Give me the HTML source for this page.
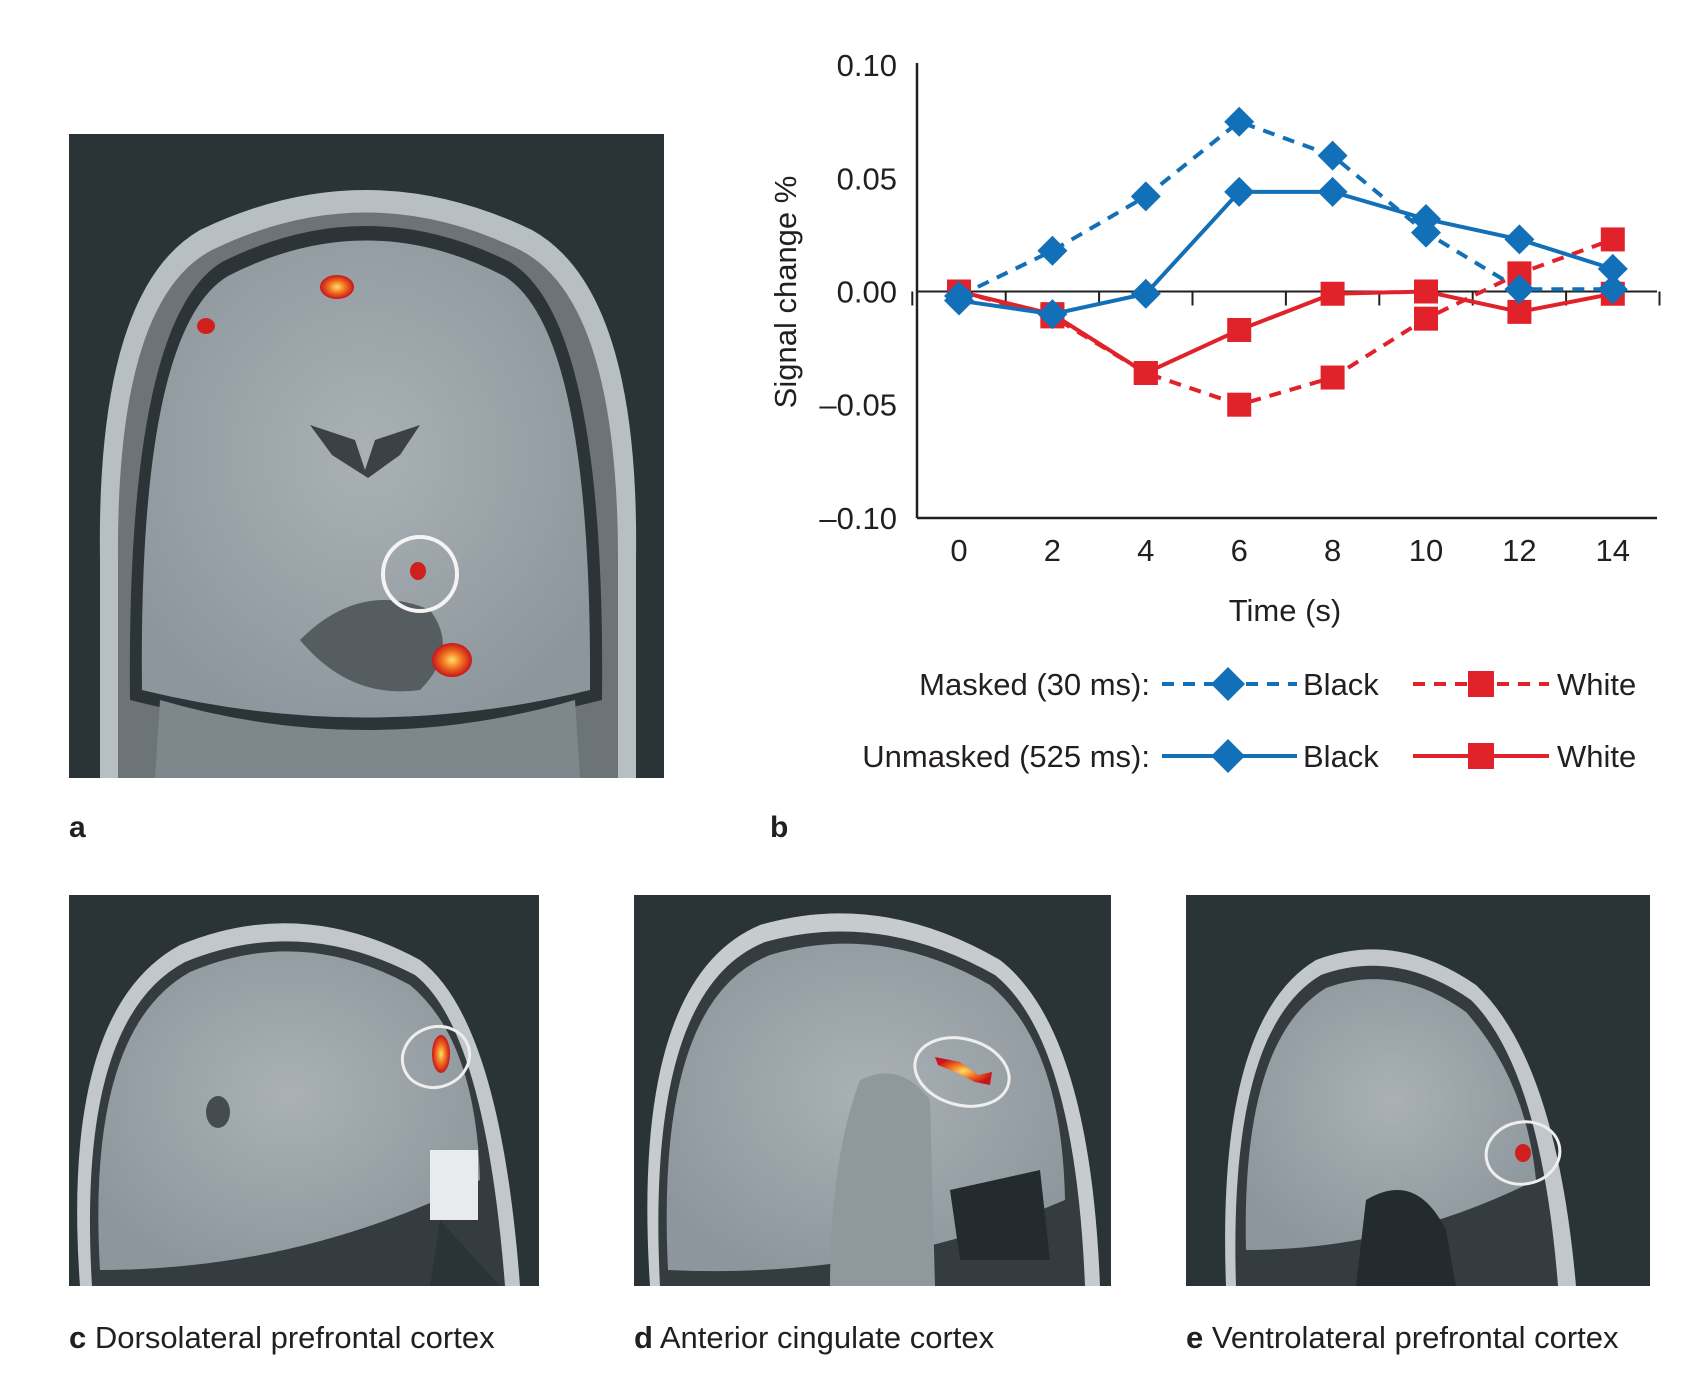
<!DOCTYPE html>
<html><head><meta charset="utf-8">
<style>
html,body{margin:0;padding:0;background:#fff;}
body{width:1692px;height:1393px;position:relative;overflow:hidden;font-family:"Liberation Sans",sans-serif;color:#231f20;}
svg text{font-family:"Liberation Sans",sans-serif;fill:#231f20;}
</style></head>
<body>
<svg id="fig" width="1692" height="1393" viewBox="0 0 1692 1393" xmlns="http://www.w3.org/2000/svg">
<defs>
  <radialGradient id="blob" cx="50%" cy="50%" r="50%">
    <stop offset="0" stop-color="#ffe066"/><stop offset="0.5" stop-color="#f07020"/><stop offset="1" stop-color="#c8141a"/>
  </radialGradient>
  <radialGradient id="brainG" cx="50%" cy="45%" r="60%">
    <stop offset="0" stop-color="#a9b1b6"/><stop offset="1" stop-color="#8d969c"/>
  </radialGradient>
</defs>

<g>
  <rect x="69" y="134" width="595" height="644" fill="#2a3336"/>
  <path d="M100 778 L100 560 Q96 290 200 230 Q366 150 532 230 Q640 290 636 560 L636 778 Z" fill="#b8bfc3"/>
  <path d="M118 778 L118 560 Q116 300 212 250 Q366 175 520 250 Q618 300 618 560 L618 778 Z" fill="#6c7478"/>
  <path d="M130 700 Q126 320 222 262 Q366 190 510 262 Q606 320 602 700 Q366 760 130 700 Z" fill="#2c3437"/>
  <path d="M142 690 Q138 330 228 276 Q366 205 504 276 Q592 330 590 690 Q366 745 142 690 Z" fill="url(#brainG)"/>
  <path d="M310 425 L355 440 L365 470 L375 440 L420 425 L400 455 L368 478 L332 455 Z" fill="#3a4245"/>
  <path d="M300 640 Q360 580 430 610 Q460 650 420 690 Q350 700 300 640 Z" fill="#555d61"/>
  <path d="M155 778 L160 700 Q366 760 575 700 L580 778 Z" fill="#7e878c"/>
  <ellipse cx="337" cy="287" rx="17" ry="12" fill="url(#blob)"/>
  <ellipse cx="206" cy="326" rx="9" ry="8" fill="#d0201e"/>
  <ellipse cx="418" cy="571" rx="8" ry="9" fill="#d0201e"/>
  <ellipse cx="452" cy="660" rx="20" ry="17" fill="url(#blob)"/>
  <circle cx="420" cy="574" r="37" fill="none" stroke="#f4f4f4" stroke-width="4"/>
</g>
<text x="69" y="837" font-size="30" font-weight="bold">a</text>
<text x="770" y="837" font-size="30" font-weight="bold">b</text>

<g id="chart"></g>

<g>
  <rect x="69" y="895" width="470" height="391" fill="#2a3336"/>
  <path d="M80 1286 Q60 1010 180 945 Q300 895 420 960 Q500 1020 520 1286 Z" fill="#c1c7ca"/>
  <path d="M92 1286 Q76 1020 185 962 Q300 915 415 975 Q485 1030 505 1286 Z" fill="#343c3f"/>
  <path d="M100 1270 Q86 1030 190 972 Q300 925 410 985 Q476 1040 480 1180 Q300 1270 100 1270 Z" fill="url(#brainG)"/>
  <rect x="430" y="1150" width="48" height="70" fill="#e8eaeb"/>
  <path d="M440 1220 L500 1286 L430 1286 Z" fill="#2a3336"/>
  <ellipse cx="218" cy="1112" rx="12" ry="16" fill="#444c50"/>
  <ellipse cx="441" cy="1054" rx="9" ry="19" fill="url(#blob)"/>
  <ellipse cx="436" cy="1057" rx="34" ry="30" fill="none" stroke="#eeeeee" stroke-width="3" transform="rotate(-20 436 1057)"/>
</g>
<g>
  <rect x="634" y="895" width="477" height="391" fill="#2a3336"/>
  <path d="M650 1286 Q630 980 760 925 Q880 890 1000 960 Q1090 1030 1100 1286 Z" fill="#c6cbce"/>
  <path d="M660 1286 Q645 990 765 942 Q880 910 995 975 Q1075 1040 1085 1286 Z" fill="#343c3f"/>
  <path d="M668 1270 Q655 1000 770 955 Q880 922 990 985 Q1062 1045 1065 1200 Q880 1280 668 1270 Z" fill="url(#brainG)"/>
  <path d="M860 1080 Q900 1060 930 1100 L935 1286 L830 1286 Q830 1160 860 1080 Z" fill="#8f989d"/>
  <path d="M950 1190 L1040 1170 L1050 1260 L960 1260 Z" fill="#242b2e"/>
  <path d="M935 1057 L960 1062 L978 1075 L992 1072 L990 1085 L975 1082 L955 1072 L938 1065 Z" fill="url(#blob)"/>
  <ellipse cx="962" cy="1072" rx="48" ry="33" fill="none" stroke="#eeeeee" stroke-width="3" transform="rotate(15 962 1072)"/>
</g>
<g transform="translate(-4 0)">
  <rect x="1190" y="895" width="464" height="391" fill="#2a3336"/>
  <path d="M1230 1286 Q1220 1020 1320 960 Q1400 930 1480 985 Q1560 1060 1580 1286 Z" fill="#c1c7ca"/>
  <path d="M1240 1286 Q1232 1030 1325 975 Q1400 948 1475 1000 Q1545 1070 1562 1286 Z" fill="#343c3f"/>
  <path d="M1250 1250 Q1245 1040 1330 988 Q1400 962 1470 1012 Q1530 1080 1540 1180 Q1400 1250 1250 1250 Z" fill="url(#brainG)"/>
  <path d="M1370 1200 Q1420 1170 1450 1230 L1460 1286 L1360 1286 Z" fill="#242b2e"/>
  <ellipse cx="1527" cy="1153" rx="8" ry="9" fill="#d0201e"/>
  <ellipse cx="1527" cy="1153" rx="37" ry="31" fill="none" stroke="#eeeeee" stroke-width="3" transform="rotate(-10 1527 1153)"/>
</g>

<text x="69" y="1348" font-size="31"><tspan font-weight="bold">c</tspan>  Dorsolateral prefrontal cortex</text>
<text x="634" y="1348" font-size="31"><tspan font-weight="bold">d</tspan>  Anterior cingulate cortex</text>
<text x="1186" y="1348" font-size="31"><tspan font-weight="bold">e</tspan>  Ventrolateral prefrontal cortex</text>
</svg>

<script>
const times = [0, 2, 4, 6, 8, 10, 12, 14];
const maskedBlack = [-0.002, 0.018, 0.042, 0.075, 0.060, 0.026, 0.001, 0.001];
const unmaskedBlack = [-0.004, -0.010, -0.001, 0.044, 0.044, 0.032, 0.023, 0.010];
const maskedWhite = [0.000, -0.011, -0.036, -0.050, -0.038, -0.012, 0.008, 0.023];
const unmaskedWhite = [0.000, -0.010, -0.036, -0.017, -0.001, 0.000, -0.009, -0.001];
const yTicks = [0.10, 0.05, 0.00, -0.05, -0.10];
const yTickLabels = ["0.10", "0.05", "0.00", "\u20130.05", "\u20130.10"];
const xTickLabels = ["0", "2", "4", "6", "8", "10", "12", "14"];

const NS = "http://www.w3.org/2000/svg";
const g = document.getElementById('chart');
const BLUE = "#1270b8", RED = "#e2222a";
const x = t => 959 + t * 46.7;
const y = v => 291.5 - v * 2264;
function mk(tag, attrs, parent) {
  const e = document.createElementNS(NS, tag);
  for (const k in attrs) e.setAttribute(k, attrs[k]);
  (parent || g).appendChild(e);
  return e;
}
let ax = mk('line', {x1: 917, y1: 63, x2: 917, y2: 518, stroke: "#231f20", "stroke-width": 2.5});


let bx = mk('line', {x1: 917, y1: 518, x2: 1657, y2: 518, stroke: "#231f20", "stroke-width": 2.5});


let zl = mk('line', {x1: 917, y1: y(0), x2: 1657, y2: y(0), stroke: "#231f20", "stroke-width": 2});


for (let i = 0; i <= times.length; i++) {
  const tx = x(times[0] - 1 + i * 2);
  const tk = mk('line', {x1: tx, y1: y(0), x2: tx, y2: y(0) + 14, stroke: "#231f20", "stroke-width": 2});
  
  
}
yTicks.forEach((v, i) => {
  const t = mk('text', {x: 897, y: y(v) + 11, "text-anchor": "end", "font-size": 31});
  t.textContent = yTickLabels[i];
  
  
});
times.forEach((t, i) => {
  const e = mk('text', {x: x(t), y: 561, "text-anchor": "middle", "font-size": 31});
  e.textContent = xTickLabels[i];
  
  
});
let xt = mk('text', {x: 1285, y: 621, "text-anchor": "middle", "font-size": 31});
xt.textContent = "Time (s)";


let yt = mk('text', {x: 0, y: 0, "text-anchor": "middle", "font-size": 31, transform: "translate(796 292) rotate(-90)"});
yt.textContent = "Signal change %";



function diamond(cx, cy, s, color, parent) {
  return mk('polygon', {points: `${cx},${cy - s} ${cx + s},${cy} ${cx},${cy + s} ${cx - s},${cy}`, fill: color}, parent);
}
function square(cx, cy, s, color, parent) {
  return mk('rect', {x: cx - s, y: cy - s, width: 2 * s, height: 2 * s, fill: color}, parent);
}
function series(vals, color, dashed, marker, name) {
  const sg = mk('g', {});
  
  
  const pts = vals.map((v, i) => x(times[i]) + "," + y(v)).join(" ");
  const pl = mk('polyline', {points: pts, fill: "none", stroke: color, "stroke-width": 4, "stroke-dasharray": dashed ? "12 9" : "none"}, sg);
  
  
  vals.forEach((v, i) => {
    const m = marker === 'd' ? diamond(x(times[i]), y(v), 15, color, sg) : square(x(times[i]), y(v), 12, color, sg);
    
    
  });
}
series(maskedWhite, RED, true, 's', 'masked-white-series');
series(unmaskedWhite, RED, false, 's', 'unmasked-white-series');
series(maskedBlack, BLUE, true, 'd', 'masked-black-series');
series(unmaskedBlack, BLUE, false, 'd', 'unmasked-black-series');

const lg = mk('g', {});


[[684, true, "Masked (30 ms):"], [756, false, "Unmasked (525 ms):"]].forEach(r => {
  const [ly, dashed, label] = r;
  const t = mk('text', {x: 1150, y: ly + 11, "text-anchor": "end", "font-size": 31}, lg);
  t.textContent = label;
  
  
  const l1 = mk('line', {x1: 1162, y1: ly, x2: 1297, y2: ly, stroke: BLUE, "stroke-width": 4, "stroke-dasharray": dashed ? "12 9" : "none"}, lg);
  
  
  diamond(1228, ly, 17, BLUE, lg);
  const b = mk('text', {x: 1303, y: ly + 11, "font-size": 31}, lg);
  b.textContent = "Black";
  
  
  const l2 = mk('line', {x1: 1413, y1: ly, x2: 1549, y2: ly, stroke: RED, "stroke-width": 4, "stroke-dasharray": dashed ? "12 9" : "none"}, lg);
  
  
  square(1481, ly, 13, RED, lg);
  const w = mk('text', {x: 1557, y: ly + 11, "font-size": 31}, lg);
  w.textContent = "White";
  
  
});
</script>
</body></html>
